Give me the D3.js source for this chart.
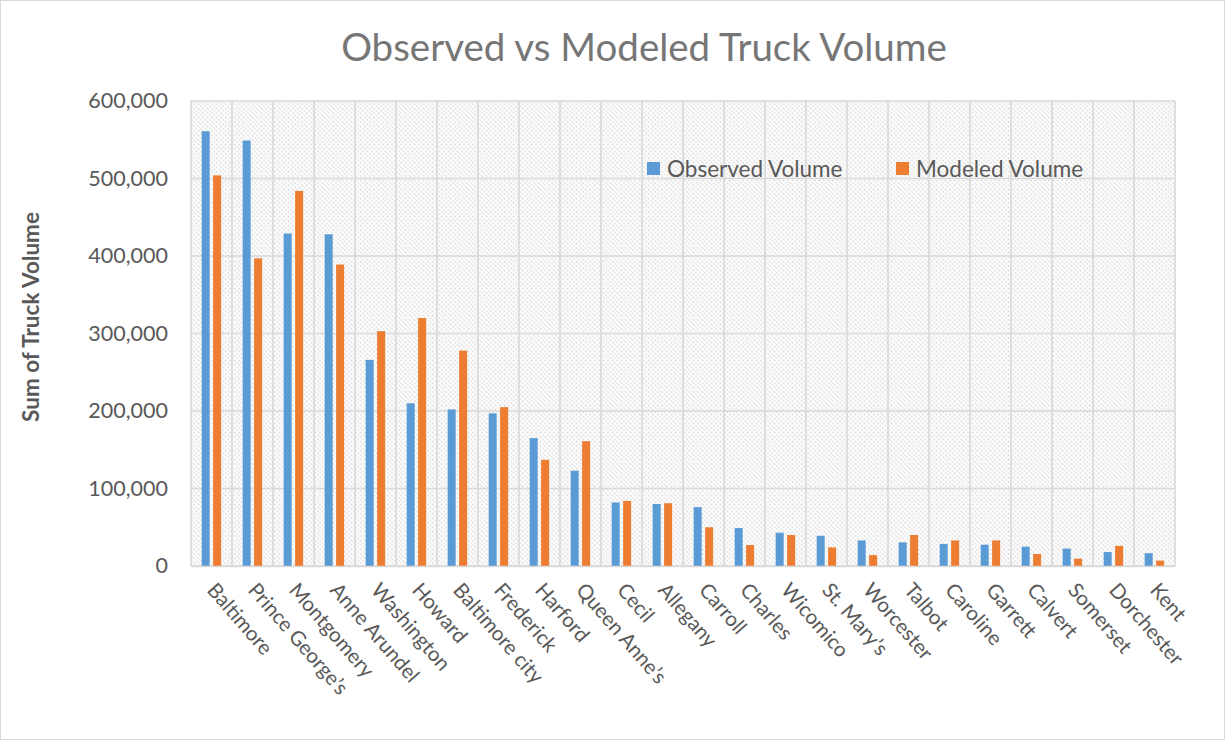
<!DOCTYPE html>
<html>
<head>
<meta charset="utf-8">
<script src="https://cdn.jsdelivr.net/npm/d3@7"></script>
<style>
  html, body { margin: 0; padding: 0; background: #fff; }
  svg { display: block; font-family: Lato, "Open Sans", sans-serif; }
</style>
</head>
<body>
<svg id="chart" width="1225" height="740"></svg>
<script>
// Counties, ordered by observed volume
const counties = ["Baltimore", "Prince George\u2019s", "Montgomery", "Anne Arundel", "Washington",
  "Howard", "Baltimore city", "Frederick", "Harford", "Queen Anne\u2019s", "Cecil", "Allegany",
  "Carroll", "Charles", "Wicomico", "St. Mary\u2019s", "Worcester", "Talbot", "Caroline",
  "Garrett", "Calvert", "Somerset", "Dorchester", "Kent"];

const observedVolume = [561000, 549000, 429000, 428000, 266000, 210000, 202000, 197000, 165000,
  123000, 82000, 80000, 76000, 49000, 43000, 39000, 33000, 30500, 28500, 27500, 25000, 22500,
  18000, 16500];

const modeledVolume = [504000, 397000, 484000, 389000, 303000, 320000, 278000, 205000, 137000,
  161000, 84000, 81000, 50000, 27000, 40000, 24000, 14000, 40000, 33000, 33000, 15500, 9500,
  26000, 7000];

const seriesNames = ["Observed Volume", "Modeled Volume"];
const seriesColors = ["#5b9bd5", "#ed7d31"];
const yTicks = [0, 100000, 200000, 300000, 400000, 500000, 600000];

const rows = counties.map((c, i) => ({ county: c, values: [observedVolume[i], modeledVolume[i]] }));

const svg = d3.select("#chart");
const W = 1225, H = 740;
const plot = { left: 191, right: 1175, top: 101, bottom: 566 };
const textColor = "#595959";
const gridColor = "#d9d9d9";

// outer chart border
svg.append("rect").attr("x", 0.5).attr("y", 0.5).attr("width", W - 1).attr("height", H - 1)
  .attr("fill", "#fff").attr("stroke", gridColor).attr("stroke-width", 1);

// diagonal hatch fill for the plot area
const defs = svg.append("defs");
const pat = defs.append("pattern").attr("id", "hatch").attr("patternUnits", "userSpaceOnUse")
  .attr("width", 4.5).attr("height", 4.5);
pat.append("rect").attr("width", 4.5).attr("height", 4.5).attr("fill", "#fff");
pat.append("path").attr("d", "M0,0 L4.5,4.5 M-1,3.5 L1,5.5 M3.5,-1 L5.5,1")
  .attr("stroke", "#d9d9d9").attr("stroke-width", 1.3).attr("stroke-dasharray", "2,1.2");

const x0 = d3.scaleBand().domain(counties).range([plot.left, plot.right]).padding(0);
const bw = x0.bandwidth();
const x1 = d3.scaleBand().domain([0, 1]).range([bw * 0.26, bw * 0.735]).paddingInner(0.3);
const y = d3.scaleLinear().domain([0, 600000]).range([plot.bottom, plot.top]);

svg.append("rect").attr("x", plot.left).attr("y", plot.top)
  .attr("width", plot.right - plot.left).attr("height", plot.bottom - plot.top)
  .attr("fill", "url(#hatch)");

// horizontal gridlines
svg.append("g").selectAll("line").data(yTicks).join("line")
  .attr("x1", plot.left).attr("x2", plot.right)
  .attr("y1", d => y(d)).attr("y2", d => y(d))
  .attr("stroke", gridColor).attr("stroke-width", 1.6);

// vertical gridlines at category boundaries
const bounds = counties.map(c => x0(c)).concat([plot.right]);
svg.append("g").selectAll("line").data(bounds).join("line")
  .attr("x1", d => d).attr("x2", d => d)
  .attr("y1", plot.top).attr("y2", plot.bottom)
  .attr("stroke", gridColor).attr("stroke-width", 1.6);

// bars
const groups = svg.append("g").selectAll("g").data(rows).join("g")
  .attr("transform", d => `translate(${x0(d.county)},0)`);
groups.selectAll("rect").data(d => d.values.map((v, i) => ({ v, i }))).join("rect")
  .attr("x", d => x1(d.i))
  .attr("width", x1.bandwidth())
  .attr("y", d => y(d.v))
  .attr("height", d => y(0) - y(d.v))
  .attr("fill", d => seriesColors[d.i]);

// y axis labels
const yAxis = d3.axisLeft(y).tickValues(yTicks).tickFormat(d3.format(",")).tickSize(0).tickPadding(23);
const gy = svg.append("g").attr("transform", `translate(${plot.left},0)`).call(yAxis);
gy.select(".domain").remove();
gy.selectAll("text").attr("fill", textColor).attr("font-size", 21.5).attr("font-family", "Lato, sans-serif");

// x axis labels, rotated
const xAxis = d3.axisBottom(x0).tickSize(0).tickPadding(0);
const gx = svg.append("g").attr("transform", `translate(0,${plot.bottom})`).call(xAxis);
gx.select(".domain").attr("stroke", gridColor).attr("stroke-width", 1.6);
gx.selectAll("text")
  .attr("fill", textColor).attr("font-size", 20.5).attr("font-family", "Lato, sans-serif")
  .attr("text-anchor", "start")
  .attr("dy", "0.35em")
  .attr("transform", "translate(0,20) rotate(49)");

// title
svg.append("text").attr("x", 644).attr("y", 61).attr("text-anchor", "middle")
  .attr("fill", "#767676").attr("font-size", 38.5).text("Observed vs Modeled Truck Volume");

// y axis title
svg.append("text").attr("transform", "translate(39,317) rotate(-90)").attr("text-anchor", "middle")
  .attr("fill", textColor).attr("font-size", 22.5).attr("font-weight", "bold").text("Sum of Truck Volume");

// legend
const legendX = [647, 896];
const leg = svg.append("g").selectAll("g").data(seriesNames).join("g")
  .attr("transform", (d, i) => `translate(${legendX[i]},162)`);
leg.append("rect").attr("width", 13).attr("height", 13).attr("fill", (d, i) => seriesColors[i]);
leg.append("text").attr("x", 20).attr("y", 15).attr("fill", textColor).attr("font-size", 22.5).text(d => d);
</script>
</body>
</html>
